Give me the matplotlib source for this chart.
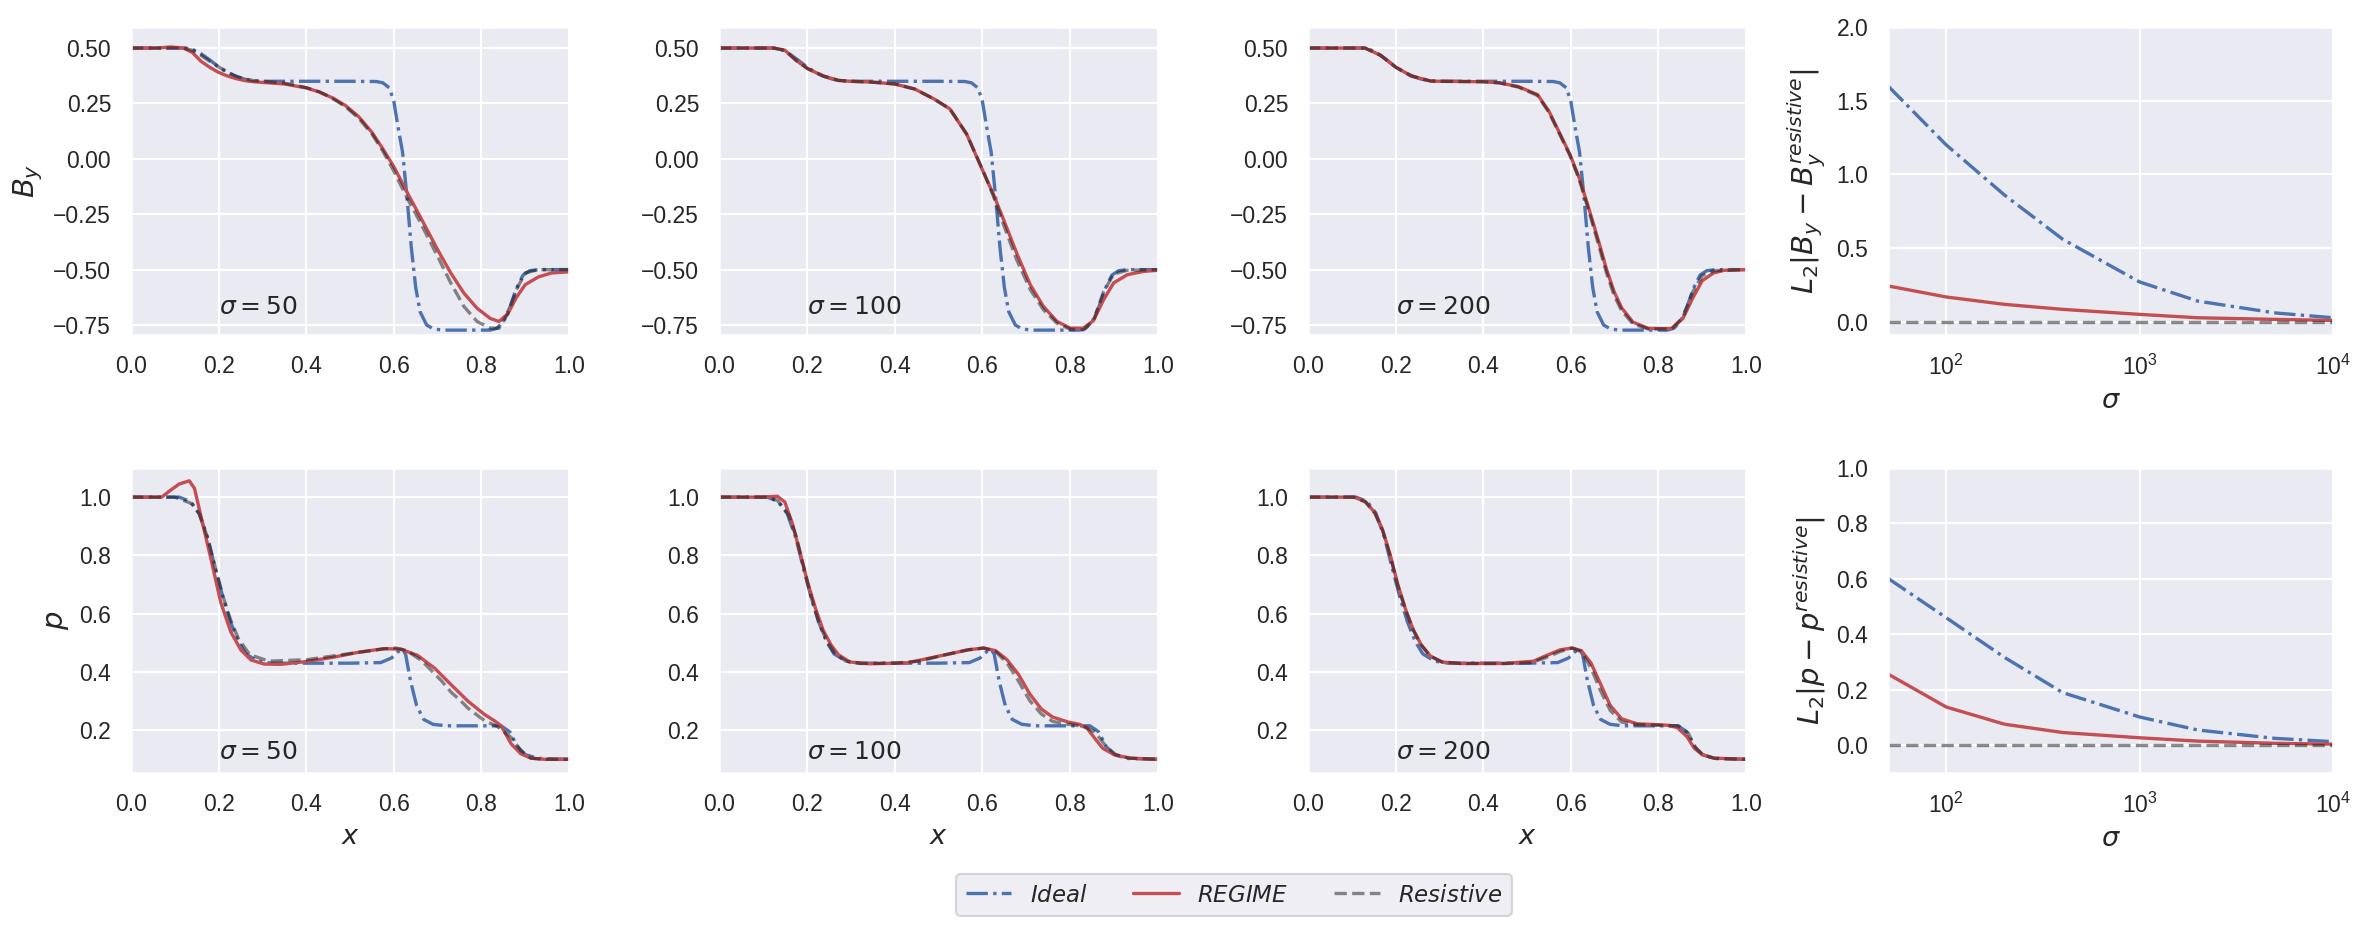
import matplotlib
matplotlib.use("Agg")
import matplotlib.pyplot as plt
import seaborn as sns

# ---------------- data ----------------
# B_y profiles
by_ideal_x = [0.0, 0.125, 0.14, 0.16, 0.18, 0.20, 0.22, 0.24, 0.26, 0.28, 0.30, 0.40, 0.50, 0.56, 0.575, 0.59, 0.60,
              0.61, 0.62, 0.63, 0.64, 0.65, 0.66, 0.675, 0.69, 0.71, 0.82, 0.835, 0.85, 0.865, 0.88, 0.895, 0.91, 0.93, 1.0]
by_ideal_y = [0.5, 0.5, 0.495, 0.474, 0.446, 0.415, 0.39, 0.372, 0.359, 0.352, 0.35, 0.35, 0.35, 0.349, 0.343, 0.32, 0.26,
              0.14, 0.03, -0.17, -0.40, -0.58, -0.69, -0.75, -0.767, -0.773, -0.773, -0.765, -0.735, -0.67, -0.585, -0.525, -0.505, -0.5, -0.5]

by50_reg_x = [0.0, 0.06, 0.09, 0.12, 0.14, 0.16, 0.18, 0.20, 0.22, 0.24, 0.26, 0.28, 0.30, 0.35, 0.40, 0.43, 0.46, 0.49,
              0.52, 0.55, 0.575, 0.60, 0.63, 0.66, 0.70, 0.73, 0.76, 0.79, 0.82, 0.84, 0.86, 0.88, 0.90, 0.93, 0.96, 1.0]
by50_reg_y = [0.5, 0.5, 0.505, 0.5, 0.48, 0.44, 0.413, 0.39, 0.374, 0.362, 0.353, 0.348, 0.345, 0.338, 0.32, 0.302, 0.275, 0.24,
              0.19, 0.12, 0.045, -0.035, -0.15, -0.26, -0.41, -0.515, -0.606, -0.674, -0.72, -0.734, -0.70, -0.625, -0.568, -0.533, -0.515, -0.51]
by50_res_x = [0.0, 0.12, 0.14, 0.16, 0.18, 0.20, 0.22, 0.24, 0.26, 0.28, 0.30, 0.35, 0.40, 0.43, 0.46, 0.49, 0.52, 0.55,
              0.575, 0.60, 0.63, 0.66, 0.70, 0.73, 0.76, 0.79, 0.82, 0.84, 0.86, 0.88, 0.90, 0.93, 1.0]
by50_res_y = [0.5, 0.5, 0.49, 0.467, 0.44, 0.415, 0.392, 0.373, 0.36, 0.353, 0.35, 0.342, 0.322, 0.302, 0.273, 0.235, 0.183, 0.112,
              0.035, -0.055, -0.175, -0.285, -0.44, -0.56, -0.666, -0.734, -0.764, -0.765, -0.70, -0.59, -0.515, -0.5, -0.5]

by100_reg_x = [0.0, 0.124, 0.15, 0.176, 0.202, 0.237, 0.272, 0.30, 0.35, 0.40, 0.446, 0.49, 0.526, 0.564, 0.60, 0.625, 0.648,
               0.678, 0.709, 0.739, 0.77, 0.80, 0.83, 0.853, 0.876, 0.899, 0.93, 0.967, 1.0]
by100_reg_y = [0.5, 0.5, 0.49, 0.444, 0.407, 0.374, 0.354, 0.35, 0.346, 0.338, 0.315, 0.27, 0.225, 0.112, -0.05, -0.16, -0.273,
               -0.425, -0.568, -0.666, -0.734, -0.764, -0.764, -0.73, -0.636, -0.56, -0.523, -0.508, -0.503]
by100_res_x = [0.0, 0.124, 0.15, 0.176, 0.202, 0.237, 0.272, 0.30, 0.35, 0.40, 0.446, 0.49, 0.526, 0.564, 0.60, 0.625, 0.648,
               0.678, 0.709, 0.739, 0.77, 0.80, 0.83, 0.853, 0.876, 0.899, 0.93, 1.0]
by100_res_y = [0.5, 0.5, 0.49, 0.444, 0.407, 0.374, 0.354, 0.35, 0.346, 0.338, 0.315, 0.27, 0.225, 0.112, -0.047, -0.168, -0.296,
               -0.455, -0.59, -0.681, -0.742, -0.769, -0.772, -0.73, -0.60, -0.52, -0.503, -0.5]

by200_reg_x = [0.0, 0.13, 0.166, 0.2, 0.236, 0.28, 0.3, 0.40, 0.437, 0.48, 0.524, 0.55, 0.576, 0.598, 0.62, 0.642, 0.664,
               0.681, 0.699, 0.716, 0.742, 0.777, 0.83, 0.856, 0.878, 0.9, 0.926, 0.95, 1.0]
by200_reg_y = [0.5, 0.5, 0.467, 0.414, 0.374, 0.351, 0.35, 0.348, 0.343, 0.326, 0.29, 0.215, 0.11, 0.02, -0.09, -0.23, -0.375,
               -0.495, -0.6, -0.672, -0.737, -0.765, -0.766, -0.72, -0.63, -0.55, -0.515, -0.503, -0.5]
by200_res_x = [0.0, 0.13, 0.166, 0.2, 0.236, 0.28, 0.3, 0.40, 0.437, 0.48, 0.524, 0.55, 0.576, 0.598, 0.62, 0.642, 0.664,
               0.681, 0.699, 0.716, 0.742, 0.777, 0.83, 0.856, 0.878, 0.9, 0.926, 1.0]
by200_res_y = [0.5, 0.5, 0.467, 0.414, 0.374, 0.351, 0.35, 0.348, 0.343, 0.324, 0.286, 0.21, 0.105, 0.015, -0.098, -0.241, -0.392,
               -0.512, -0.617, -0.685, -0.745, -0.768, -0.768, -0.715, -0.602, -0.527, -0.505, -0.5]

# p profiles
p_ideal_x = [0.0, 0.11, 0.135, 0.155, 0.175, 0.19, 0.21, 0.227, 0.245, 0.262, 0.289, 0.32, 0.40, 0.50, 0.57, 0.595, 0.61,
             0.62, 0.627, 0.638, 0.652, 0.668, 0.69, 0.72, 0.845, 0.865, 0.882, 0.9, 0.93, 1.0]
p_ideal_y = [1.0, 1.0, 0.985, 0.945, 0.86, 0.77, 0.655, 0.572, 0.504, 0.462, 0.437, 0.43, 0.43, 0.43, 0.432, 0.448, 0.47,
             0.478, 0.46, 0.37, 0.285, 0.237, 0.22, 0.215, 0.215, 0.194, 0.144, 0.116, 0.103, 0.1]

p50_reg_x = [0.0, 0.07, 0.087, 0.11, 0.133, 0.145, 0.16, 0.183, 0.205, 0.228, 0.251, 0.274, 0.304, 0.342, 0.396, 0.457,
             0.518, 0.578, 0.616, 0.654, 0.693, 0.731, 0.769, 0.807, 0.83, 0.845, 0.868, 0.89, 0.913, 0.945, 1.0]
p50_reg_y = [1.0, 1.0, 1.02, 1.045, 1.056, 1.03, 0.932, 0.785, 0.638, 0.537, 0.475, 0.441, 0.427, 0.426, 0.435, 0.449,
             0.467, 0.48, 0.478, 0.457, 0.413, 0.356, 0.3, 0.254, 0.232, 0.215, 0.153, 0.119, 0.104, 0.1, 0.1]
p50_res_x = [0.0, 0.1, 0.14, 0.157, 0.175, 0.192, 0.21, 0.227, 0.245, 0.271, 0.315, 0.402, 0.49, 0.577, 0.604, 0.63, 0.665,
             0.709, 0.731, 0.752, 0.769, 0.796, 0.807, 0.837, 0.868, 0.89, 0.913, 0.94, 1.0]
p50_res_y = [1.0, 1.0, 0.977, 0.94, 0.86, 0.76, 0.66, 0.58, 0.515, 0.459, 0.437, 0.442, 0.461, 0.479, 0.482, 0.473, 0.437,
             0.369, 0.33, 0.302, 0.276, 0.245, 0.233, 0.212, 0.175, 0.13, 0.104, 0.1, 0.1]

p100_reg_x = [0.0, 0.098, 0.133, 0.15, 0.167, 0.185, 0.202, 0.22, 0.237, 0.255, 0.272, 0.298, 0.342, 0.429, 0.516, 0.568,
              0.603, 0.63, 0.656, 0.682, 0.708, 0.734, 0.76, 0.795, 0.821, 0.839, 0.856, 0.874, 0.9, 0.935, 1.0]
p100_reg_y = [1.0, 1.0, 1.003, 0.983, 0.91, 0.808, 0.707, 0.617, 0.544, 0.493, 0.459, 0.434, 0.428, 0.431, 0.459, 0.476,
              0.482, 0.473, 0.442, 0.392, 0.324, 0.273, 0.245, 0.228, 0.22, 0.206, 0.172, 0.138, 0.116, 0.104, 0.1]
p100_res_x = [0.0, 0.106, 0.133, 0.159, 0.176, 0.194, 0.211, 0.228, 0.246, 0.263, 0.289, 0.324, 0.40, 0.455, 0.516, 0.568,
              0.603, 0.63, 0.656, 0.682, 0.708, 0.734, 0.76, 0.795, 0.83, 0.856, 0.882, 0.904, 0.935, 1.0]
p100_res_y = [1.0, 1.0, 0.989, 0.938, 0.865, 0.752, 0.651, 0.566, 0.504, 0.465, 0.437, 0.429, 0.43, 0.437, 0.459, 0.476,
              0.482, 0.47, 0.431, 0.369, 0.301, 0.256, 0.23, 0.22, 0.214, 0.194, 0.144, 0.116, 0.104, 0.1]

p200_reg_x = [0.0, 0.105, 0.131, 0.153, 0.17, 0.188, 0.205, 0.223, 0.24, 0.258, 0.279, 0.306, 0.349, 0.45, 0.515, 0.541,
              0.576, 0.603, 0.624, 0.646, 0.668, 0.69, 0.716, 0.751, 0.821, 0.843, 0.865, 0.882, 0.9, 0.926, 1.0]
p200_reg_y = [1.0, 1.0, 0.985, 0.946, 0.889, 0.8, 0.7, 0.614, 0.546, 0.494, 0.455, 0.434, 0.429, 0.429, 0.437, 0.454,
              0.476, 0.482, 0.473, 0.431, 0.358, 0.285, 0.239, 0.222, 0.217, 0.209, 0.178, 0.138, 0.116, 0.104, 0.1]
p200_res_x = [0.0, 0.105, 0.131, 0.153, 0.17, 0.188, 0.205, 0.223, 0.24, 0.258, 0.279, 0.306, 0.349, 0.45, 0.507, 0.541,
              0.576, 0.603, 0.624, 0.646, 0.668, 0.69, 0.716, 0.751, 0.845, 0.868, 0.885, 0.903, 0.93, 1.0]
p200_res_y = [1.0, 1.0, 0.983, 0.944, 0.887, 0.797, 0.696, 0.611, 0.544, 0.493, 0.454, 0.434, 0.429, 0.429, 0.431, 0.448,
              0.47, 0.482, 0.47, 0.414, 0.335, 0.268, 0.228, 0.219, 0.215, 0.19, 0.14, 0.114, 0.103, 0.1]

# L2 errors vs sigma
sigma_vals = [50, 100, 200, 400, 1000, 2000, 5000, 10000]
l2_by_ideal = [1.60, 1.20, 0.86, 0.56, 0.27, 0.14, 0.06, 0.027]
l2_by_regime = [0.243, 0.168, 0.118, 0.084, 0.05, 0.027, 0.016, 0.009]
l2_by_resistive = [0, 0, 0, 0, 0, 0, 0, 0]
l2_p_ideal = [0.602, 0.46, 0.317, 0.19, 0.102, 0.055, 0.025, 0.013]
l2_p_regime = [0.257, 0.138, 0.076, 0.046, 0.027, 0.015, 0.007, 0.004]
l2_p_resistive = [0, 0, 0, 0, 0, 0, 0, 0]

sigmas = [50, 100, 200]

# ---------------- figure ----------------
sns.set_theme(style="darkgrid", font="Liberation Sans")
W, H, DPI = 2368, 933, 150
fig = plt.figure(figsize=(W / DPI, H / DPI), dpi=DPI)


def box(l, t, r, b):
    return [l / W, 1 - b / H, (r - l) / W, (b - t) / H]


cols = [(131, 569), (719, 1158), (1308, 1746)]
right = (1888, 2333)
rows = [(27, 335), (468, 773)]
YL = 14  # axis label size
XL = 13

top_reg = [(by50_reg_x, by50_reg_y), (by100_reg_x, by100_reg_y), (by200_reg_x, by200_reg_y)]
top_res = [(by50_res_x, by50_res_y), (by100_res_x, by100_res_y), (by200_res_x, by200_res_y)]
bot_reg = [(p50_reg_x, p50_reg_y), (p100_reg_x, p100_reg_y), (p200_reg_x, p200_reg_y)]
bot_res = [(p50_res_x, p50_res_y), (p100_res_x, p100_res_y), (p200_res_x, p200_res_y)]

for i in range(3):
    # top row: B_y
    ax = fig.add_axes(box(cols[i][0], rows[0][0], cols[i][1], rows[0][1]))
    l1, = ax.plot(by_ideal_x, by_ideal_y, "b-.", lw=1.6, label=r"$\it{Ideal}$")
    l2, = ax.plot(*top_reg[i], "r-", lw=1.6, label=r"$\it{REGIME}$")
    l3, = ax.plot(*top_res[i], "k--", lw=1.6, alpha=0.5, label=r"$\it{Resistive}$")
    ax.set_xlim(0, 1)
    ax.set_ylim(-0.795, 0.595)
    ax.set_yticks([-0.75, -0.5, -0.25, 0, 0.25, 0.5])
    ax.text(0.2, -0.7, r"$\sigma = %d$" % sigmas[i], fontsize=12)
    if i == 0:
        ax.set_ylabel("$B_y$", fontsize=YL)

    # bottom row: p
    ax = fig.add_axes(box(cols[i][0], rows[1][0], cols[i][1], rows[1][1]))
    ax.plot(p_ideal_x, p_ideal_y, "b-.", lw=1.6)
    ax.plot(*bot_reg[i], "r-", lw=1.6)
    ax.plot(*bot_res[i], "k--", lw=1.6, alpha=0.5)
    ax.set_xlim(0, 1)
    ax.set_ylim(0.053, 1.1)
    ax.set_yticks([0.2, 0.4, 0.6, 0.8, 1.0])
    ax.text(0.2, 0.1, r"$\sigma = %d$" % sigmas[i], fontsize=12)
    ax.set_xlabel("$x$", fontsize=XL)
    if i == 0:
        ax.set_ylabel("$p$", fontsize=YL)

# right column: L2 differences
ax = fig.add_axes(box(right[0], rows[0][0], right[1], rows[0][1]))
ax.plot(sigma_vals, l2_by_ideal, "b-.", lw=1.6)
ax.plot(sigma_vals, l2_by_regime, "r-", lw=1.6)
ax.plot(sigma_vals, l2_by_resistive, "k--", lw=1.6, alpha=0.5)
ax.set_xscale("log")
ax.set_xlim(50, 1e4)
ax.set_ylim(-0.09, 2.0)
ax.set_yticks([0, 0.5, 1.0, 1.5, 2.0])
ax.set_xlabel(r"$\sigma$", fontsize=XL)
ax.set_ylabel(r"$L_2|B_y - B_y^{resistive}|$", fontsize=YL)

ax = fig.add_axes(box(right[0], rows[1][0], right[1], rows[1][1]))
ax.plot(sigma_vals, l2_p_ideal, "b-.", lw=1.6)
ax.plot(sigma_vals, l2_p_regime, "r-", lw=1.6)
ax.plot(sigma_vals, l2_p_resistive, "k--", lw=1.6, alpha=0.5)
ax.set_xscale("log")
ax.set_xlim(50, 1e4)
ax.set_ylim(-0.1, 1.0)
ax.set_yticks([0, 0.2, 0.4, 0.6, 0.8, 1.0])
ax.set_xlabel(r"$\sigma$", fontsize=XL)
ax.set_ylabel(r"$L_2|p - p^{resistive}|$", fontsize=YL)

fig.legend(handles=[l1, l2, l3], loc="center", bbox_to_anchor=(1234 / W, 1 - 895 / H), ncol=3,
           fontsize=11)

fig.savefig("out.png", dpi=DPI)
